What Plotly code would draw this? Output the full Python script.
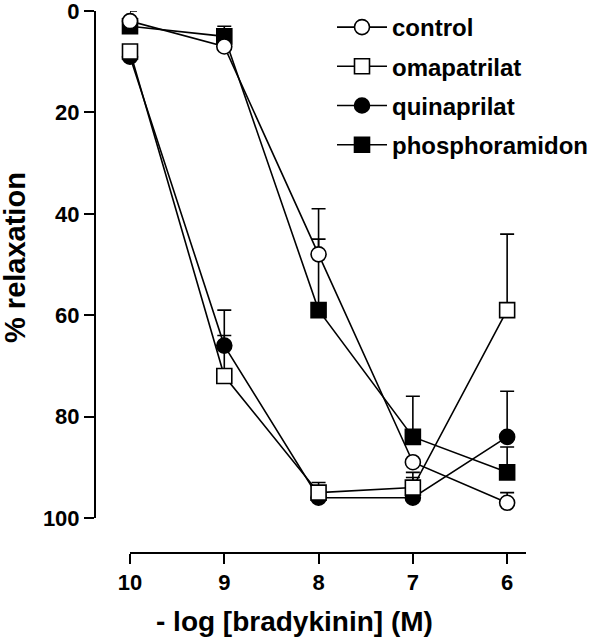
import plotly.graph_objects as go

# ---- data ----
log_conc = [10, 9, 8, 7, 6]
x_tick_vals = [10, 9, 8, 7, 6]
x_tick_text = ["10", "9", "8", "7", "6"]
y_tick_vals = [0, 20, 40, 60, 80, 100]
y_tick_text = ["0", "20", "40", "60", "80", "100"]

control = [2, 7, 48, 89, 97]
control_err = [2, 3, 9, 0, 2]
omapatrilat = [8, 72, 95, 94, 59]
omapatrilat_err = [0, 8, 2, 3, 15]
quinaprilat = [9, 66, 96, 96, 84]
quinaprilat_err = [0, 7, 0, 4, 9]
phosphoramidon = [3, 5, 59, 84, 91]
phosphoramidon_err = [0, 2, 14, 8, 5]

FONT = "Liberation Sans, Arial, sans-serif"

series = [
    # name, values, errors, symbol, fill, legend rank
    ("phosphoramidon", phosphoramidon, phosphoramidon_err, "square", "black", 4),
    ("quinaprilat", quinaprilat, quinaprilat_err, "circle", "black", 3),
    ("omapatrilat", omapatrilat, omapatrilat_err, "square", "white", 2),
    ("control", control, control_err, "circle", "white", 1),
]

fig = go.Figure()
for name, vals, errs, sym, fill, rank in series:
    fig.add_trace(go.Scatter(
        x=log_conc, y=vals, name=name, mode="lines+markers",
        line=dict(color="black", width=1.6),
        marker=dict(symbol=sym, size=15, color=fill,
                    line=dict(color="black", width=1.6)),
        error_y=dict(type="data", symmetric=False, array=[0] * len(errs),
                     arrayminus=errs, color="black", thickness=1.6, width=7),
        cliponaxis=False, legendrank=rank, legendgroup=name,
    ))

W, H = 601, 640
ml, mr, mt, mb = 95, 75, 0, 87
pw, ph = W - ml - mr, H - mt - mb
TOP = 11  # plot top inside the paper


def px(xp):
    return (xp - ml) / pw


def py(yp):
    return (H - mb - yp) / ph


fig.update_layout(
    width=W, height=H,
    margin=dict(l=ml, r=mr, t=mt, b=mb, pad=0, autoexpand=False),
    paper_bgcolor="white", plot_bgcolor="white",
    font=dict(family=FONT, color="black", weight="bold"),
    showlegend=True,
    legend=dict(
        x=px(332), y=py(5), xanchor="left", yanchor="top",
        font=dict(family=FONT, size=24, color="black", weight="bold"),
        itemwidth=50, tracegroupgap=5, bgcolor="rgba(0,0,0,0)",
    ),
    xaxis=dict(
        domain=[35 / pw, 1], range=[10, 5.8], autorange=False,
        anchor="free", position=0, automargin=False,
        showline=True, linecolor="black", linewidth=2,
        ticks="outside", ticklen=10, tickwidth=2, tickcolor="black",
        tickvals=x_tick_vals, ticktext=x_tick_text,
        tickfont=dict(family=FONT, size=22, color="black", weight="bold"),
        showgrid=False, zeroline=False, ticklabeloverflow="allow",
    ),
    yaxis=dict(
        domain=[35 / ph, 1 - TOP / ph], range=[100, 0], autorange=False,
        anchor="free", position=0, automargin=False,
        showline=True, linecolor="black", linewidth=2,
        ticks="outside", ticklen=10, tickwidth=2, tickcolor="black",
        tickvals=y_tick_vals, ticktext=y_tick_text,
        tickfont=dict(family=FONT, size=22, color="black", weight="bold"),
        showgrid=False, zeroline=False, ticklabeloverflow="allow",
    ),
    annotations=[
        dict(text="- log [bradykinin] (M)", xref="paper", yref="paper",
             x=px(294), y=py(621),
             xanchor="center", yanchor="middle", showarrow=False,
             font=dict(family=FONT, size=28, color="black", weight="bold")),
        dict(text="% relaxation", xref="paper", yref="paper",
             x=px(15), y=py(258), textangle=-90,
             xanchor="center", yanchor="middle", showarrow=False,
             font=dict(family=FONT, size=29, color="black", weight="bold")),
    ],
)

# drop the browser's default 8px page margin so the figure fills the window
fig.write_html("out.html",
               config={"displayModeBar": False},
               post_script="document.body.style.margin='0';"
                           "document.body.style.overflow='hidden';")
